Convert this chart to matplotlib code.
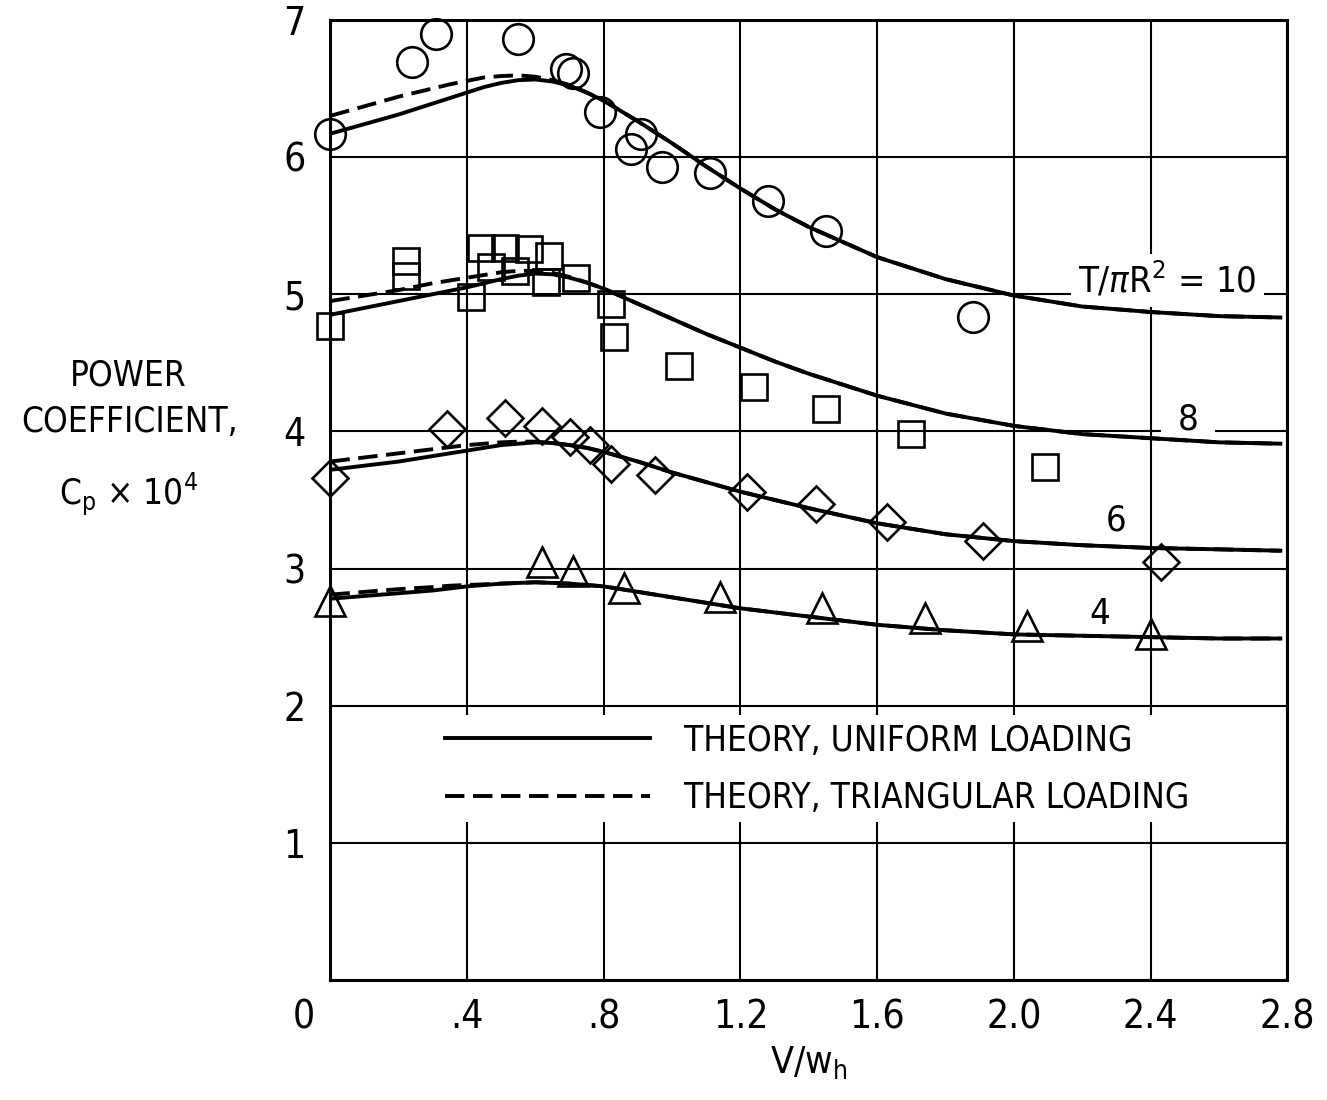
import matplotlib
matplotlib.use("Agg")
import matplotlib.pyplot as plt
from matplotlib import font_manager
from matplotlib.patches import Rectangle

# pick a narrow sans face if one is installed
installed = [(f.name, f.stretch) for f in font_manager.fontManager.ttflist]
names = {n for n, s in installed}
if "Liberation Sans Narrow" in names:
    base_font, stretch, k = "Liberation Sans Narrow", "normal", 1.0
elif ("DejaVu Sans", "condensed") in installed:
    base_font, stretch, k = "DejaVu Sans", "condensed", 0.9
else:
    base_font, stretch, k = "DejaVu Sans", "normal", 0.82

plt.rcParams["font.family"] = [base_font, "DejaVu Sans"]
plt.rcParams["font.stretch"] = stretch

# theory curves, C_p x 10^4 against V/w_h
theory_x = [0.0, 0.1, 0.2, 0.3, 0.35, 0.4, 0.45, 0.5, 0.55, 0.6, 0.65, 0.7, 0.75,
            0.8, 0.9, 1.0, 1.1, 1.2, 1.3, 1.4, 1.6, 1.8, 2.0, 2.2, 2.4, 2.6, 2.78]

uniform_10 = [6.17, 6.24, 6.31, 6.39, 6.43, 6.47, 6.51, 6.54, 6.56, 6.565, 6.55, 6.52, 6.47,
              6.41, 6.26, 6.10, 5.93, 5.77, 5.62, 5.49, 5.27, 5.11, 4.99, 4.91, 4.87, 4.84, 4.83]
triang_10 = [6.30, 6.37, 6.44, 6.50, 6.53, 6.555, 6.58, 6.59, 6.595, 6.585, 6.56, 6.525, 6.47,
             6.41, 6.26, 6.10, 5.93, 5.77, 5.62, 5.49, 5.27, 5.11, 4.99, 4.91, 4.87, 4.84, 4.83]

uniform_8 = [4.85, 4.90, 4.95, 5.00, 5.025, 5.05, 5.08, 5.11, 5.135, 5.15, 5.145, 5.12, 5.085,
             5.04, 4.93, 4.82, 4.71, 4.61, 4.51, 4.42, 4.26, 4.13, 4.04, 3.98, 3.95, 3.92, 3.91]
triang_8 = [4.95, 4.99, 5.03, 5.08, 5.10, 5.12, 5.14, 5.16, 5.17, 5.17, 5.155, 5.125, 5.085,
            5.04, 4.93, 4.82, 4.71, 4.61, 4.51, 4.42, 4.26, 4.13, 4.04, 3.98, 3.95, 3.92, 3.91]

uniform_6 = [3.72, 3.75, 3.78, 3.82, 3.84, 3.86, 3.88, 3.90, 3.91, 3.92, 3.915, 3.90, 3.88,
             3.85, 3.78, 3.70, 3.63, 3.56, 3.50, 3.44, 3.33, 3.25, 3.20, 3.17, 3.15, 3.14, 3.13]
triang_6 = [3.78, 3.81, 3.84, 3.87, 3.885, 3.90, 3.91, 3.92, 3.925, 3.925, 3.915, 3.90, 3.88,
            3.85, 3.78, 3.70, 3.63, 3.56, 3.50, 3.44, 3.33, 3.25, 3.20, 3.17, 3.15, 3.14, 3.13]

uniform_4 = [2.78, 2.80, 2.82, 2.84, 2.855, 2.87, 2.88, 2.89, 2.895, 2.90, 2.895, 2.89, 2.88,
             2.87, 2.83, 2.79, 2.75, 2.71, 2.68, 2.65, 2.59, 2.55, 2.52, 2.51, 2.50, 2.49, 2.49]
triang_4 = [2.81, 2.83, 2.85, 2.865, 2.875, 2.88, 2.885, 2.89, 2.895, 2.90, 2.895, 2.89, 2.88,
            2.87, 2.83, 2.79, 2.75, 2.71, 2.68, 2.65, 2.59, 2.55, 2.52, 2.51, 2.50, 2.49, 2.49]

# measured points
circle_x = [0.0, 0.24, 0.31, 0.55, 0.69, 0.71, 0.79, 0.88, 0.91, 0.97, 1.11, 1.28, 1.45, 1.88]
circle_y = [6.17, 6.69, 6.90, 6.86, 6.64, 6.61, 6.33, 6.06, 6.17, 5.93, 5.88, 5.68, 5.46, 4.83]

square_x = [0.0, 0.22, 0.22, 0.41, 0.44, 0.47, 0.51, 0.54, 0.58, 0.63, 0.64, 0.72,
            0.82, 0.83, 1.02, 1.24, 1.45, 1.70, 2.09]
square_y = [4.77, 5.24, 5.13, 4.98, 5.34, 5.20, 5.34, 5.17, 5.33, 5.09, 5.28, 5.12,
            4.93, 4.69, 4.48, 4.32, 4.16, 3.98, 3.74]

diamond_x = [0.0, 0.34, 0.51, 0.62, 0.70, 0.76, 0.82, 0.95, 1.22, 1.42, 1.63, 1.91, 2.43]
diamond_y = [3.66, 4.02, 4.10, 4.04, 3.96, 3.90, 3.76, 3.68, 3.56, 3.47, 3.34, 3.20, 3.05]

triangle_x = [0.0, 0.62, 0.71, 0.86, 1.14, 1.44, 1.74, 2.04, 2.40]
triangle_y = [2.76, 3.05, 2.98, 2.86, 2.79, 2.71, 2.64, 2.58, 2.52]

x_ticks = [0, 0.4, 0.8, 1.2, 1.6, 2.0, 2.4, 2.8]
x_tick_labels = ["", ".4", ".8", "1.2", "1.6", "2.0", "2.4", "2.8"]
y_ticks = [0, 1, 2, 3, 4, 5, 6, 7]
y_tick_labels = ["", "1", "2", "3", "4", "5", "6", "7"]

fig = plt.figure(figsize=(13.27, 11), dpi=100)
ax = fig.add_axes([0.249, 0.109, 0.721, 0.873])

lw = 2.8
dash = (5.0, 2.2)
for tri in [triang_10, triang_8, triang_6, triang_4]:
    ax.plot(theory_x, tri, color="black", lw=lw, dashes=dash, zorder=2)
for uni in [uniform_10, uniform_8, uniform_6, uniform_4]:
    ax.plot(theory_x, uni, color="black", lw=lw, zorder=2.1)

mk = dict(linestyle="none", markerfacecolor="none", markeredgecolor="black",
          markeredgewidth=1.9, clip_on=False, zorder=3)
ax.plot(circle_x, circle_y, marker="o", markersize=22, **mk)
ax.plot(square_x, square_y, marker="s", markersize=19, **mk)
ax.plot(diamond_x, diamond_y, marker="D", markersize=18.5, **mk)
ax.plot(triangle_x, triangle_y, marker="^", markersize=22, **mk)

ax.set_xlim(0, 2.8)
ax.set_ylim(0, 7)
ax.set_xticks(x_ticks)
ax.set_xticklabels(x_tick_labels)
ax.set_yticks(y_ticks)
ax.set_yticklabels(y_tick_labels)
ax.tick_params(length=0, labelsize=31 * k)
ax.tick_params(axis="x", pad=13)
ax.tick_params(axis="y", pad=18)
ax.set_axisbelow(True)
ax.grid(True, color="black", lw=1.5)
for sp in ax.spines.values():
    sp.set_linewidth(2.2)

ax.annotate("0", xy=(0, 0), xytext=(-19, -13), textcoords="offset points",
            ha="center", va="top", fontsize=31 * k)

# blank band behind the key
ax.add_patch(Rectangle((0, 1.15), 1, 0.78, transform=ax.get_yaxis_transform(),
                       facecolor="white", edgecolor="none", zorder=1))

# curve labels
white = dict(facecolor="white", edgecolor="none", pad=5)
ax.text(2.45, 5.01, r"T/$\pi$R$^2$ = 10", ha="center", va="baseline",
        fontsize=29 * k, bbox=white, zorder=1.5)
ax.text(2.51, 4.01, "8", ha="center", va="baseline", fontsize=29 * k,
        bbox=dict(facecolor="white", edgecolor="none", pad=12), zorder=1.5)
ax.text(2.30, 3.35, "6", ha="center", va="center", fontsize=29 * k, zorder=1.5)
ax.text(2.25, 2.67, "4", ha="center", va="center", fontsize=29 * k, zorder=1.5)

h_uni, = ax.plot([], [], color="black", lw=lw)
h_tri, = ax.plot([], [], color="black", lw=lw, dashes=dash)
ax.legend([h_uni, h_tri], ["THEORY, UNIFORM LOADING", "THEORY, TRIANGULAR LOADING"],
          loc="upper left", bbox_to_anchor=(0.12, 0.267), frameon=False,
          borderpad=0, borderaxespad=0, fontsize=28 * k, handlelength=5.85,
          handletextpad=0.98, labelspacing=0.66)

ax.set_xlabel(r"V/w$_\mathregular{h}$", fontsize=30 * k, labelpad=6)

fig.text(0.097, 0.65, "POWER", ha="center", va="baseline", fontsize=28 * k)
fig.text(0.098, 0.607, "COEFFICIENT,", ha="center", va="baseline", fontsize=28 * k)
fig.text(0.097, 0.541, r"C$_\mathregular{p}$ $\times$ 10$^\mathregular{4}$",
         ha="center", va="baseline", fontsize=28 * k)

fig.savefig("out.png", dpi=100)
